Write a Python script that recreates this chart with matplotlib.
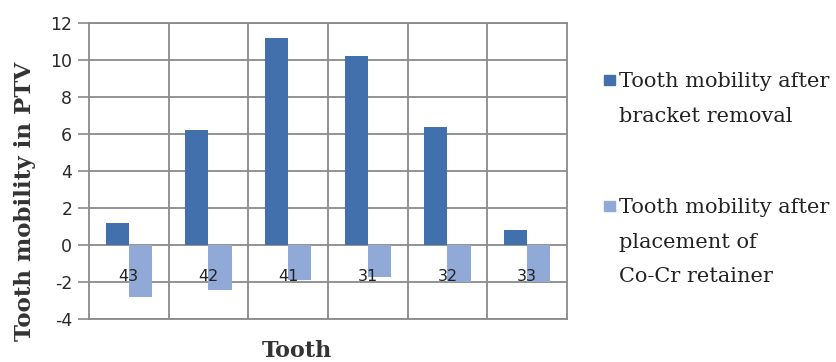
import matplotlib
matplotlib.use('Agg')
import matplotlib.pyplot as plt
import numpy as np
from matplotlib.patches import Rectangle

plt.rcParams['axes.unicode_minus'] = False

teeth = ['43', '42', '41', '31', '32', '33']
after_bracket_removal = [1.2, 6.2, 11.2, 10.2, 6.4, 0.8]
after_retainer = [-2.8, -2.4, -1.9, -1.7, -2.0, -2.0]
series_labels = ['Tooth mobility after\nbracket removal',
                 'Tooth mobility after\nplacement of\nCo-Cr retainer']
colors = ['#4170AD', '#91A9D6']

fig = plt.figure(figsize=(8.37, 3.62), dpi=100)
ax = fig.add_axes([0.1063, 0.118, 0.5711, 0.8193])

x = np.arange(len(teeth))
w = 0.29
ax.bar(x - w / 2, after_bracket_removal, w, color=colors[0], zorder=3)
ax.bar(x + w / 2, after_retainer, w, color=colors[1], zorder=3)

ax.set_xlim(-0.5, len(teeth) - 0.5)
ax.set_ylim(-4, 12)
ax.set_yticks(range(-4, 13, 2))
ax.set_xticks(x[:-1] + 0.5, minor=True)
ax.set_xticks([])
ax.grid(axis='y', color='#8a8a8a', lw=1.3, zorder=0)
ax.grid(axis='x', which='minor', color='#8a8a8a', lw=1.3, zorder=0)
ax.tick_params(axis='x', which='both', length=0)
ax.tick_params(axis='y', length=8, width=1.2, color='#8a8a8a', pad=4,
               labelsize=12.5, labelcolor='#2a2a2a')
for s in ax.spines.values():
    s.set_color('#8a8a8a')
    s.set_linewidth(1.3)
for lbl in ax.get_yticklabels():
    lbl.set_family('DejaVu Sans')

# category labels sit inside the plot, just under the zero line
for i, t in enumerate(teeth):
    ax.text(i, -1.7, t, ha='center', va='center', fontsize=11.5,
            family='DejaVu Sans', color='#222222', zorder=4)

fig.text(0.030, 1 - 201 / 362, 'Tooth mobility in PTV', rotation=90,
         family='DejaVu Serif', fontsize=16.5, fontweight='bold',
         color='#333333', ha='center', va='center')
fig.text(0.355, 0.03, 'Tooth', family='DejaVu Serif', fontsize=16,
         fontweight='bold', color='#333333', ha='center', va='center')

# legend drawn by hand to keep the wide line spacing of the original
legend_top = [72, 198]
for top, lab, c in zip(legend_top, series_labels, colors):
    fig.text(619 / 837, 1 - top / 362, lab, family='DejaVu Serif',
             fontsize=15, color='#222222', ha='left', va='top',
             linespacing=2.05)
    fig.add_artist(Rectangle((604 / 837, 1 - (top + 13) / 362),
                             11 / 837, 10 / 362,
                             transform=fig.transFigure, color=c))

fig.savefig('out.png', dpi=100)
